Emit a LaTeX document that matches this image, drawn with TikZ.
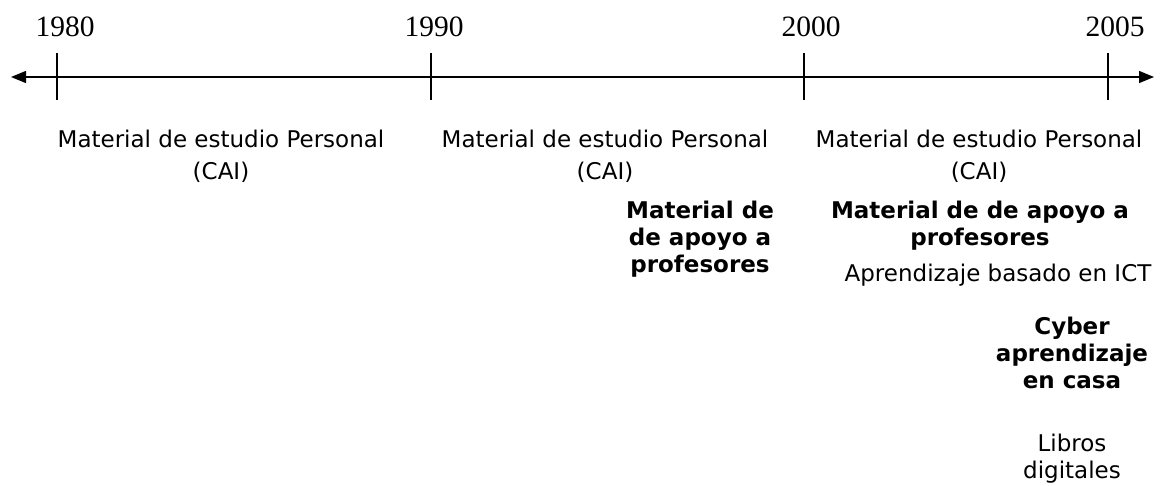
\documentclass[tikz,border=0pt]{standalone}
\usepackage{fontspec}
\setmainfont{DejaVu Sans}
\newfontfamily\yearfont{Liberation Serif}
\usepackage{tikz}
\usetikzlibrary{arrows.meta}

\tikzset{
    year/.style={anchor=base,inner sep=0pt,font=\yearfont\fontsize{29.5}{34}\selectfont},
    cai/.style={anchor=base,inner sep=0pt,align=center,font=\fontsize{23}{32}\selectfont},
    note/.style={anchor=base,inner sep=0pt,align=center,font=\fontsize{23}{27}\selectfont},
    notebold/.style={note,font=\bfseries\fontsize{23}{27}\selectfont},
    axis/.style={line width=1.3pt,{Triangle[length=15pt,width=12pt]}-{Triangle[length=15pt,width=12pt]}}
}

\begin{document}
\begin{tikzpicture}[x=1pt,y=-1pt]
                \useasboundingbox (0,0) rectangle (1164,485);
                \coordinate (left) at (11,77);
                \coordinate (right) at (1154,77);
                \draw[axis] (left) -- (right);
                \foreach \x/\xl/\yr in {57/65/1980,431/434/1990,804/811/2000,1108/1115/2005}{
                    \coordinate (t\yr a) at (\x,53);
                    \coordinate (t\yr b) at (\x,100);
                    \draw[line width=1.3pt] (t\yr a) -- (t\yr b);
                    \node[year] (y\yr) at (\xl,36) {\yr};
                }
                % base anchor sits on the last line
                \node[cai] (cai1) at (221,179) {Material de estudio Personal\\(CAI)};
                \node[cai] (cai2) at (605,179) {Material de estudio Personal\\(CAI)};
                \node[cai] (cai3) at (979,179) {Material de estudio Personal\\(CAI)};
                \node[notebold] (apoyo2) at (700,272) {Material de\\de apoyo a\\profesores};
                \node[notebold] (apoyo3) at (980,245) {Material de de apoyo a\\profesores};
                \node[note] (ict) at (998,281) {Aprendizaje basado en ICT};
                \node[notebold] (cyber) at (1072,388) {Cyber\\aprendizaje\\en casa};
                \node[note] (libros) at (1072,478) {Libros\\digitales};
            \end{tikzpicture}
\end{document}
